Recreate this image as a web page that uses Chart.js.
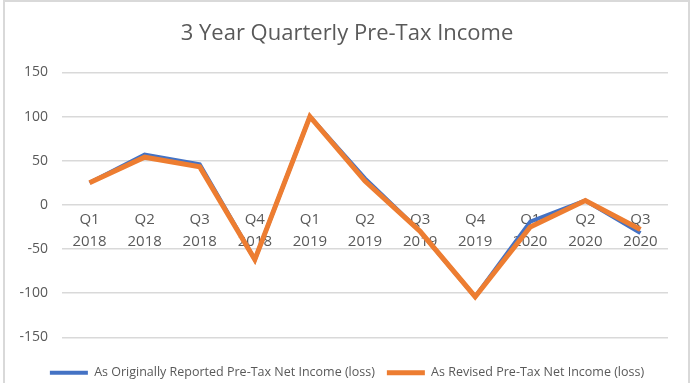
<!DOCTYPE html>
<html>
<head>
<meta charset="utf-8">
<script src="https://cdn.jsdelivr.net/npm/chart.js@4"></script>
<style>
  html, body { margin: 0; padding: 0; background: #fff; }
  #wrap { position: relative; width: 694px; height: 383px; overflow: hidden; }
  #frame { position: absolute; left: 3px; top: 0px; width: 683px; height: 400px;
           border: 2px solid #d9d9d9; pointer-events: none; }
</style>
</head>
<body>
<div id="wrap">
  <canvas id="chart" width="694" height="383"></canvas>
  <div id="frame"></div>
</div>
<script>
'use strict'

const quarters = ['Q1', 'Q2', 'Q3', 'Q4', 'Q1', 'Q2', 'Q3', 'Q4', 'Q1', 'Q2', 'Q3']
const years = ['2018', '2018', '2018', '2018', '2019', '2019', '2019', '2019', '2020', '2020', '2020']

const originalIncome = [25, 57, 46, -62, 100, 30, -30, -104, -19, 5, -32]
const revisedIncome = [25, 54, 43, -62, 100, 27, -30, -104, -25, 5, -28]

const yTicks = [-150, -100, -50, 0, 50, 100, 150]

const labels = quarters.map((q, i) => [q, years[i]])

const ctx = document.getElementById('chart')

const chart = new Chart(ctx, {
  type: 'line',
  data: {
    labels: labels,
    datasets: [{
      label: 'As Originally Reported Pre-Tax Net Income (loss)',
      data: originalIncome,
      borderColor: '#4472C4',
      backgroundColor: '#4472C4',
      borderWidth: 4,
      pointRadius: 0,
      tension: 0,
      order: 1,
    }, {
      label: 'As Revised Pre-Tax Net Income (loss)',
      data: revisedIncome,
      borderColor: '#ED7D31',
      backgroundColor: '#ED7D31',
      borderWidth: 5,
      pointRadius: 0,
      tension: 0,
      order: 0,
    }]
  },
  options: {
    responsive: false,
    animation: false,
    layout: {
      padding: { left: 0, right: 0, top: 0, bottom: -6 }
    },
    plugins: {
      title: {
        display: true,
        text: '3 Year Quarterly Pre-Tax Income',
        color: '#595959',
        font: { family: 'Open Sans', size: 22, weight: 'normal' },
        padding: { top: 21, bottom: 25 }
      },
      legend: {
        position: 'bottom',
        title: {
          display: true,
          text: ' ',
          font: { size: 1 },
          padding: { top: 16, bottom: 0 }
        },
        labels: {
          usePointStyle: true,
          pointStyle: 'line',
          pointStyleWidth: 38,
          color: '#595959',
          font: { family: 'Open Sans', size: 12.5 },
          padding: 12,
          sort: (a, b) => a.datasetIndex - b.datasetIndex
        }
      },
      tooltip: { enabled: false }
    },
    scales: {
      x: {
        position: { y: 0 },
        offset: true,
        grid: { display: false },
        border: { display: false },
        ticks: {
          color: '#595959',
          font: { family: 'Open Sans', size: 15, lineHeight: 1.45 },
          maxRotation: 0,
          autoSkip: false,
          padding: -4
        }
      },
      y: {
        min: -150,
        max: 150,
        afterBuildTicks: (scale) => {
          scale.ticks = yTicks.map(v => ({ value: v }))
        },
        afterFit: (scale) => {
          scale.width = 62
        },
        grid: { color: '#d9d9d9', lineWidth: 1.5, drawTicks: false },
        border: { display: false },
        ticks: {
          color: '#595959',
          font: { family: 'Open Sans', size: 14 },
          padding: 14
        }
      },
      spacer: {
        type: 'linear',
        position: 'right',
        grid: { display: false },
        border: { display: false },
        ticks: { display: false },
        afterFit: (scale) => {
          scale.width = 26
        }
      }
    }
  }
})
</script>
</body>
</html>
